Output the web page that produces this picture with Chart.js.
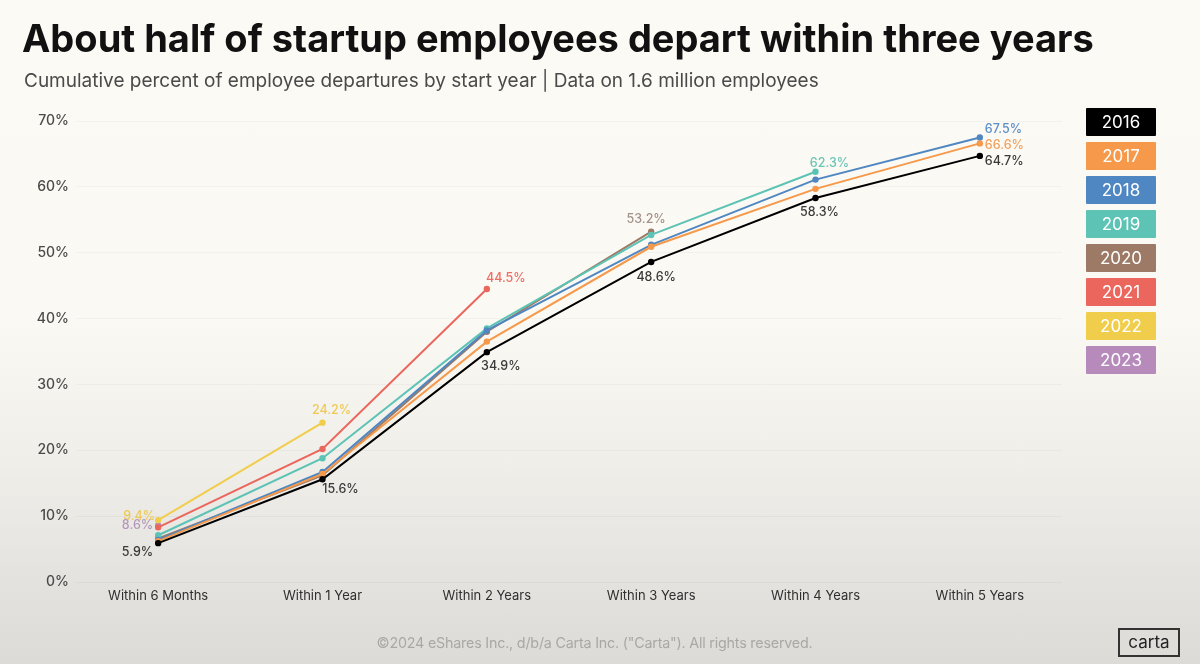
<!DOCTYPE html>
<html>
<head>
<meta charset="utf-8">
<script src="https://cdn.jsdelivr.net/npm/chart.js@4.4.1/dist/chart.umd.min.js"></script>
<style>
  html, body { margin: 0; padding: 0; }
  #wrap {
    position: relative; width: 1200px; height: 664px; overflow: hidden;
    background: linear-gradient(to bottom, #fcfaf5 0%, #fbf9f4 48%, #f0eee9 70%, #e4e2de 88%, #dcdbd7 100%);
    font-family: Inter, "Noto Sans", sans-serif;
  }
  #chart { position: absolute; left: 0; top: 0; }
  #title {
    position: absolute; left: 22px; top: 15px; font-size: 38px; font-weight: 700;
    color: #111; letter-spacing: 0px; white-space: nowrap;
  }
  #subtitle {
    position: absolute; left: 24px; top: 69px; font-size: 19px; font-weight: 400;
    color: #4a4a4a; letter-spacing: 0px; white-space: nowrap;
  }
  #legend { position: absolute; left: 1086px; top: 108px; }
  .lg {
    width: 70px; height: 28px; margin-bottom: 6px; color: #fff; font-size: 17px;
    line-height: 28px; text-align: center; font-weight: 400; border-radius: 1px;
  }
  #footer {
    position: absolute; left: 0; width: 1189px; top: 634px; text-align: center;
    font-size: 14.3px; color: #aaa8a4; letter-spacing: -0.2px;
  }
  #logo {
    position: absolute; left: 1118px; top: 628px; width: 58px; height: 25px;
    border: 2px solid #333; color: #222; font-size: 17px; line-height: 24px; text-align: center;
  }
</style>
</head>
<body>
<div id="wrap">
  <canvas id="chart" width="1200" height="664"></canvas>
  <div id="title">About half of startup employees depart within three years</div>
  <div id="subtitle">Cumulative percent of employee departures by start year | Data on 1.6 million employees</div>
  <div id="legend"></div>
  <div id="footer">©2024 eShares Inc., d/b/a Carta Inc. ("Carta"). All rights reserved.</div>
  <div id="logo">carta</div>
</div>
<script>
const categories = ["Within 6 Months", "Within 1 Year", "Within 2 Years", "Within 3 Years", "Within 4 Years", "Within 5 Years"];
const years = ["2016", "2017", "2018", "2019", "2020", "2021", "2022", "2023"];
const yTicks = [0, 10, 20, 30, 40, 50, 60, 70];

const s2016 = [5.9, 15.6, 34.9, 48.6, 58.3, 64.7];
const s2017 = [6.2, 16.4, 36.5, 50.9, 59.7, 66.6];
const s2018 = [6.4, 16.7, 38.2, 51.2, 61.1, 67.5];
const s2019 = [7.1, 18.8, 38.5, 52.7, 62.3, null];
const s2020 = [6.6, 16.2, 38.0, 53.2, null, null];
const s2021 = [8.3, 20.2, 44.5, null, null, null];
const s2022 = [9.4, 24.2, null, null, null, null];
const s2023 = [8.6, null, null, null, null, null];
const seriesValues = [s2016, s2017, s2018, s2019, s2020, s2021, s2022, s2023];

const colors = ["#000000", "#f6994a", "#4f87c2", "#5cc3b5", "#9c7a65", "#eb675d", "#f1cd4c", "#b68bbb"];
const labelColors = ["#3a3a3a", "#f3a25e", "#5b8fc6", "#6cc4b7", "#a3938a", "#ec6f66", "#edca56", "#b497bb"];

// which points carry a value label: [index, dx, dy, align]
const labelSpots = {
  "2016": [[0, -5, 9, "right"], [1, 18, 10, "center"], [2, 14, 14, "center"], [3, 5, 15, "center"], [4, 4, 14, "center"], [5, 5, 5, "left"]],
  "2017": [[5, 5, 2, "left"]],
  "2018": [[5, 5, -8, "left"]],
  "2019": [[4, 14, -8, "center"]],
  "2020": [[3, -5, -12, "center"]],
  "2021": [[2, 19, -11, "center"]],
  "2022": [[0, -3, -4, "right"], [1, 9, -12, "center"]],
  "2023": [[0, -5, 0, "right"]]
};

const legendEl = document.getElementById("legend");
years.forEach((y, i) => {
  const d = document.createElement("div");
  d.className = "lg";
  d.style.background = colors[i];
  d.textContent = y;
  legendEl.appendChild(d);
});

const valueLabels = {
  id: "valueLabels",
  afterDatasetsDraw(chart) {
    const ctx = chart.ctx;
    ctx.save();
    ctx.font = "500 12.5px Inter, 'Noto Sans', sans-serif";
    ctx.textBaseline = "middle";
    chart.data.datasets.forEach((ds, di) => {
      const spots = labelSpots[ds.label] || [];
      const meta = chart.getDatasetMeta(di);
      spots.forEach(([idx, dx, dy, align]) => {
        const pt = meta.data[idx];
        if (!pt || ds.data[idx] == null) return;
        ctx.fillStyle = labelColors[di];
        ctx.textAlign = align;
        ctx.fillText(ds.data[idx].toFixed(1) + "%", pt.x + dx, pt.y + dy);
      });
    });
    ctx.restore();
  }
};

const datasets = years.map((y, i) => ({
  label: y,
  data: seriesValues[i],
  borderColor: colors[i],
  backgroundColor: colors[i],
  borderWidth: 2,
  pointRadius: 2.2,
  pointHoverRadius: 2.2,
  tension: 0,
  spanGaps: false
}));

new Chart(document.getElementById("chart"), {
  type: "line",
  data: { labels: categories, datasets: datasets },
  options: {
    responsive: false,
    animation: false,
    layout: { padding: { top: 121, right: 138, left: 0, bottom: 0 } },
    plugins: { legend: { display: false }, tooltip: { enabled: false } },
    scales: {
      x: {
        offset: true,
        grid: { display: false },
        border: { display: false },
        ticks: { color: "#2f2f2f", font: { family: "Inter", size: 13 }, padding: -2, maxRotation: 0 },
        afterFit(scale) { scale.height = 82; }
      },
      y: {
        min: 0, max: 70,
        afterBuildTicks(scale) { scale.ticks = yTicks.map(v => ({ value: v })); },
        grid: { color: "rgba(0,0,0,0.03)", drawTicks: false },
        border: { display: false },
        ticks: { color: "#4a4a4a", font: { family: "Inter", size: 14, weight: 500 }, padding: 7, callback: v => v + "%" },
        afterFit(scale) { scale.width = 76; }
      }
    }
  },
  plugins: [valueLabels]
});
</script>
</body>
</html>
